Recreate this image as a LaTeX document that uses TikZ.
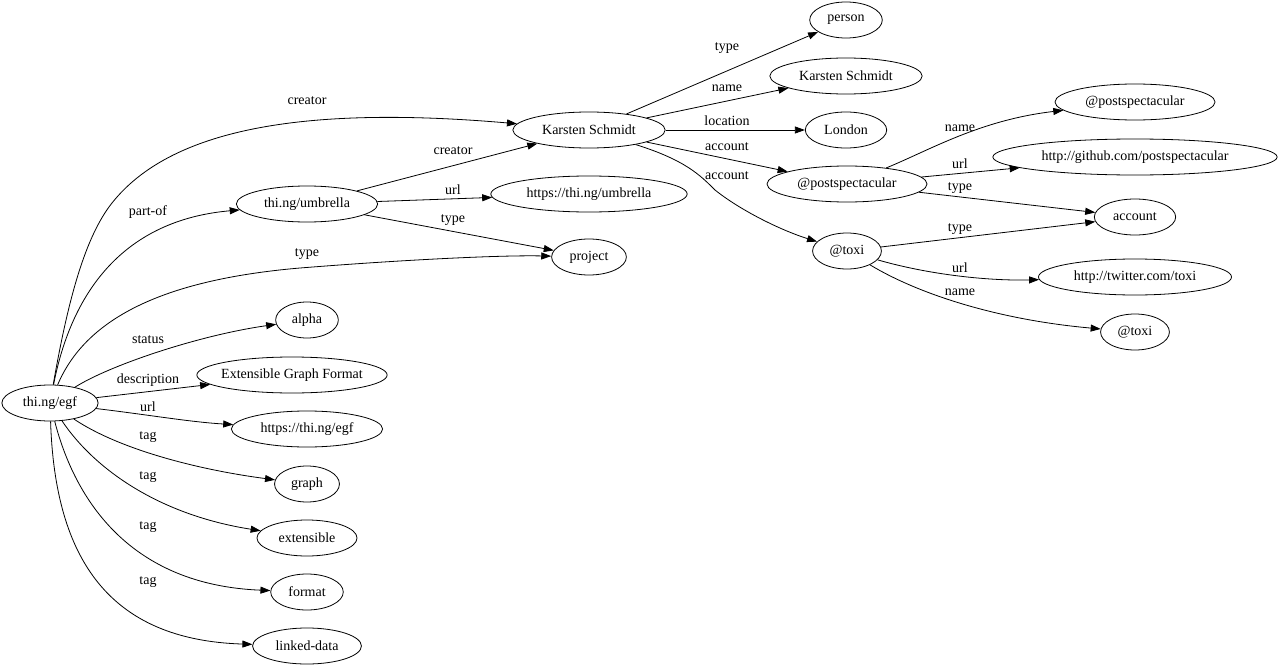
\documentclass[tikz,border=0pt]{standalone}
\usepackage{fontspec}
\setmainfont{Liberation Serif}
\usetikzlibrary{arrows.meta,shapes.geometric}
\tikzset{
  res/.style={draw, ellipse, line width=0.8pt, minimum height=36pt,
              inner xsep=7pt, inner ysep=2pt, font=\fontsize{14}{16}\selectfont},
  lbl/.style={font=\fontsize{14}{16}\selectfont, inner sep=0pt},
  rel/.style={-{Triangle[length=10pt, width=7pt]}, line width=0.8pt},
}

\begin{document}
\begin{tikzpicture}[x=1pt, y=-1pt]
    \useasboundingbox (0,0) rectangle (1280,669);
    % resources
    \node[res] (egf) at (50,403) {thi.ng/egf};
    \node[res] (umb) at (307,204) {thi.ng/umbrella};
    \node[res] (alpha) at (307,320) {alpha};
    \node[res, inner xsep=-3.5pt] (egftitle) at (292,375) {Extensible Graph Format};
    \node[res] (egfurl) at (307,429) {https://thi.ng/egf};
    \node[res] (graph) at (307,484) {graph};
    \node[res] (extens) at (307,538) {extensible};
    \node[res] (format) at (307,592) {format};
    \node[res] (linked) at (307,646) {linked-data};
    \node[res] (ks) at (589,130) {Karsten Schmidt};
    \node[res] (umburl) at (589,194) {https://thi.ng/umbrella};
    \node[res] (project) at (589,257) {project};
    \node[res] (person) at (846,20) {person};
    \node[res] (ksname) at (846,76) {Karsten Schmidt};
    \node[res] (london) at (846,130) {London};
    \node[res] (ps) at (847,184) {@postspectacular};
    \node[res] (toxi) at (847,251) {@toxi};
    \node[res] (psname) at (1135,102) {@postspectacular};
    \node[res] (github) at (1135,157) {http://github.com/postspectacular};
    \node[res] (account) at (1135,217) {account};
    \node[res] (twitter) at (1135,277) {http://twitter.com/toxi};
    \node[res] (toxiname) at (1135,332) {@toxi};
    % thi.ng/egf
    \draw[rel] (egf) .. controls (68,300) and (85,237) .. (112,203)
                     .. controls (170,130) and (300,105) .. (ks);
    \draw[rel] (egf) .. controls (72,290) and (125,220) .. (umb);
    \draw[rel] (egf) .. controls (85,320) and (160,280) .. (300,268)
                     .. controls (400,260) and (500,255) .. (project);
    \draw[rel] (egf) .. controls (110,365) and (200,335) .. (alpha);
    \draw[rel] (egf) -- (egftitle);
    \draw[rel] (egf) .. controls (150,415) and (190,422) .. (egfurl);
    \draw[rel] (egf) .. controls (120,450) and (200,470) .. (graph);
    \draw[rel] (egf) .. controls (95,470) and (160,515) .. (extens);
    \draw[rel] (egf) .. controls (75,500) and (130,585) .. (format);
    \draw[rel] (egf) .. controls (55,560) and (110,640) .. (linked);
    \node[lbl] (l1) at (307,101) {creator};
    \node[lbl] (l2) at (148,212) {part-of};
    \node[lbl] (l3) at (307,254) {type};
    \node[lbl] (l4) at (148,340) {status};
    \node[lbl] (l5) at (148,380) {description};
    \node[lbl] (l6) at (148,407) {url};
    \node[lbl] (l7) at (148,437) {tag};
    \node[lbl] (l8) at (148,477) {tag};
    \node[lbl] (l9) at (148,527) {tag};
    \node[lbl] (l10) at (148,582) {tag};
    % thi.ng/umbrella
    \draw[rel] (umb) -- (ks);
    \draw[rel] (umb) -- (umburl);
    \draw[rel] (umb) -- (project);
    \node[lbl] (l11) at (453,151) {creator};
    \node[lbl] (l12) at (453,190) {url};
    \node[lbl] (l13) at (453,220) {type};
    % Karsten Schmidt
    \draw[rel] (ks) -- (person);
    \draw[rel] (ks) -- (ksname);
    \draw[rel] (ks) -- (london);
    \draw[rel] (ks) -- (ps);
    \draw[rel] (ks) .. controls (685,160) and (700,175) .. (715,190)
                    .. controls (740,210) and (780,230) .. (toxi);
    \node[lbl] (l14) at (727,48) {type};
    \node[lbl] (l15) at (727,88) {name};
    \node[lbl] (l16) at (727,121) {location};
    \node[lbl] (l17) at (727,147) {account};
    \node[lbl] (l18) at (727,176) {account};
    % accounts
    \draw[rel] (ps) .. controls (930,150) and (980,120) .. (psname);
    \draw[rel] (ps) -- (github);
    \draw[rel] (ps) -- (account);
    \draw[rel] (toxi) -- (account);
    \draw[rel] (toxi) .. controls (930,275) and (990,281) .. (twitter);
    \draw[rel] (toxi) .. controls (920,295) and (1000,320) .. (toxiname);
    \node[lbl] (l19) at (960,128) {name};
    \node[lbl] (l20) at (960,164) {url};
    \node[lbl] (l21) at (960,188) {type};
    \node[lbl] (l22) at (960,229) {type};
    \node[lbl] (l23) at (960,268) {url};
    \node[lbl] (l24) at (960,292) {name};
\end{tikzpicture}
\end{document}
